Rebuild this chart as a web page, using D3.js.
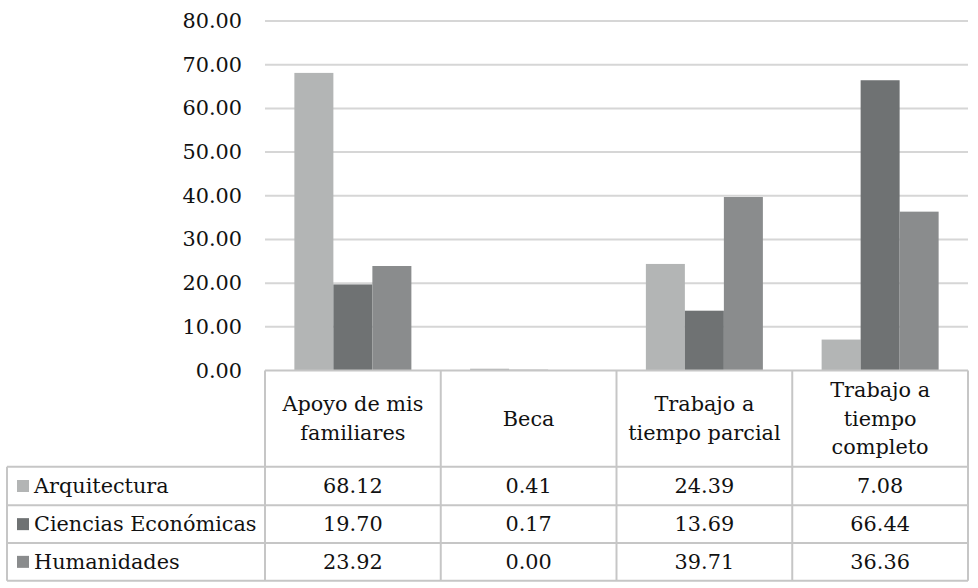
<!DOCTYPE html>
<html><head><meta charset="utf-8">
<script src="https://cdn.jsdelivr.net/npm/d3@7"></script>
<style>
html,body{margin:0;padding:0;background:#fff;}
</style></head>
<body><svg id="c" width="978" height="588"></svg>
<script>
const categories = [["Apoyo de mis","familiares"],["Beca"],["Trabajo a","tiempo parcial"],["Trabajo a","tiempo","completo"]];
const series = ["Arquitectura","Ciencias Económicas","Humanidades"];
const arquitectura = [68.12, 0.41, 24.39, 7.08];
const cienciasEconomicas = [19.70, 0.17, 13.69, 66.44];
const humanidades = [23.92, 0.00, 39.71, 36.36];
const yTicks = [0,10,20,30,40,50,60,70,80];
const colors = ["#b3b5b5","#6f7273","#8a8c8d"];

const values = [arquitectura, cienciasEconomicas, humanidades];
const svg = d3.select("#c");
const left = 265, right = 968, zeroY = 370.5, topY = 21;
const catIdx = categories.map((d,i)=>i);
const x0 = d3.scaleBand().domain(catIdx).range([left,right]).paddingInner(0).paddingOuter(0);
const x1 = d3.scaleBand().domain(series).range([0,x0.bandwidth()]).paddingInner(0).paddingOuter(0.753);
const y = d3.scaleLinear().domain([0,80]).range([zeroY,topY]);
const SX = 1.04, FS = 20;
const FONT = "DejaVu Serif, Liberation Serif, serif";

function txt(g, x, yy, s, anchor){
  return g.append("text").attr("transform",`translate(${x},${yy}) scale(${SX},1)`)
    .attr("text-anchor",anchor||"middle").attr("font-size",FS)
    .style("font-family",FONT).attr("fill","#111").text(s);
}

// gridlines
svg.append("g").selectAll("line").data(yTicks.filter(t=>t>0)).join("line")
  .attr("x1",left).attr("x2",right).attr("y1",d=>y(d)).attr("y2",d=>y(d))
  .attr("stroke","#d6d6d6").attr("stroke-width",2);

// y tick labels
const yl = svg.append("g");
yTicks.forEach(t=>{ txt(yl, 242, y(t)+7, t.toFixed(2), "end"); });

// bars
const bars = svg.append("g");
series.forEach((s,si)=>{
  bars.selectAll(null).data(values[si]).join("rect")
    .attr("x",(d,i)=>x0(i)+x1(s)).attr("width",x1.bandwidth())
    .attr("y",d=>y(d)).attr("height",d=>zeroY-y(d))
    .attr("fill",colors[si]);
});

// table
const tbl = svg.append("g");
const hdrBottom = 466.7, rowYs = [466.7,505.3,543,580.7], tblLeft = 7;
const lineC = "#c6c6c6";
function hl(x1_,x2_,yy){ tbl.append("line").attr("x1",x1_).attr("x2",x2_).attr("y1",yy).attr("y2",yy).attr("stroke",lineC).attr("stroke-width",2); }
function vl(xx,y1_,y2_){ tbl.append("line").attr("x1",xx).attr("x2",xx).attr("y1",y1_).attr("y2",y2_).attr("stroke",lineC).attr("stroke-width",2); }
hl(left,right,zeroY);
rowYs.forEach(r=>hl(tblLeft,right,r));
vl(tblLeft,hdrBottom,rowYs[3]);
catIdx.forEach(i=>vl(x0(i),zeroY,rowYs[3]));
vl(right,zeroY,rowYs[3]);

// headers
const lh = 28.5;
categories.forEach((lines,i)=>{
  const cx = x0(i)+x0.bandwidth()/2;
  const mid = (zeroY+hdrBottom)/2;
  const start = mid - (lines.length-1)*lh/2 + 7;
  lines.forEach((l,k)=> txt(tbl, cx, start+k*lh, l));
});

// rows
series.forEach((s,si)=>{
  const cy = (rowYs[si]+rowYs[si+1])/2;
  tbl.append("rect").attr("x",17).attr("y",cy-6).attr("width",12).attr("height",12).attr("fill",colors[si]);
  txt(tbl, 34, cy+7, s, "start");
  values[si].forEach((v,i)=> txt(tbl, x0(i)+x0.bandwidth()/2, cy+7, v.toFixed(2)));
});
</script></body></html>
